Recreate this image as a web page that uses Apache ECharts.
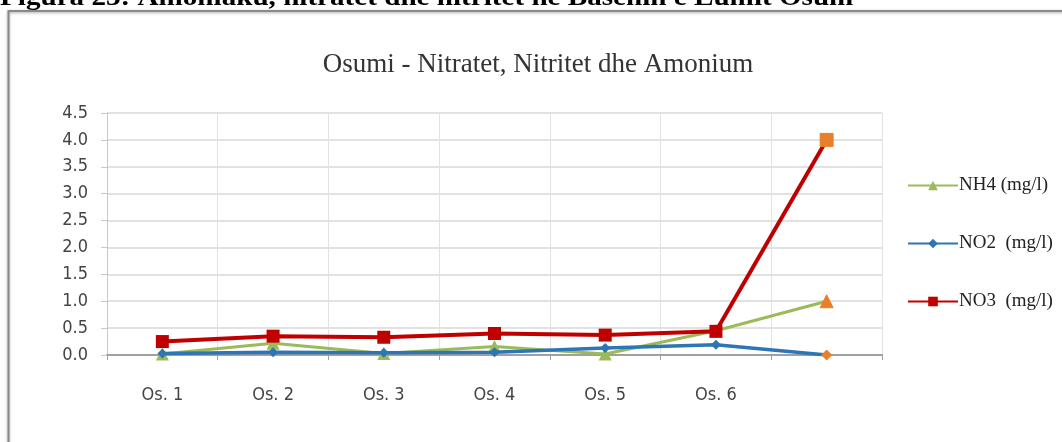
<!DOCTYPE html>
<html>
<head>
<meta charset="utf-8">
<script src="https://cdn.jsdelivr.net/npm/echarts@6/dist/echarts.min.js"></script>
<style>
  html, body { margin: 0; padding: 0; background: #fff; }
  #chart { width: 1062px; height: 442px; }
</style>
</head>
<body>
<div id="chart"></div>
<script>
  // stations
  const categories = ['Os. 1', 'Os. 2', 'Os. 3', 'Os. 4', 'Os. 5', 'Os. 6', ''];
  // values (mg/l)
  const nh4 = [0.02, 0.22, 0.03, 0.16, 0.02, 0.45, 1.0];
  const no2 = [0.03, 0.05, 0.04, 0.05, 0.13, 0.19, 0.0];
  const no3 = [0.25, 0.35, 0.33, 0.40, 0.37, 0.44, 4.0];
  const yTicks = { min: 0, max: 4.5, interval: 0.5 };

  const serif = '"Liberation Serif", "DejaVu Serif", serif';
  const narrow = '"DejaVu Sans Condensed", "Liberation Sans Narrow", "DejaVu Sans", sans-serif';
  const orange = '#E8802A';

  // the last point of each series is drawn orange in the original
  const mark = function (arr) {
    return arr.map(function (v, i) {
      if (i === arr.length - 1) {
        return { value: v, itemStyle: { color: orange, borderColor: orange } };
      }
      return v;
    });
  };

  const chart = echarts.init(document.getElementById('chart'));
  const option = {
    animation: false,
    title: {
      text: 'Osumi - Nitratet, Nitritet dhe Amonium',
      left: 533,
      top: 46,
      textAlign: 'center',
      textStyle: { fontFamily: serif, fontWeight: 'normal', fontSize: 27, color: '#333' }
    },
    graphic: [
      {
        type: 'text',
        x: 0,
        y: -15,
        scaleX: 1.12,
        style: {
          text: 'Figura 23: Amoniaku, nitratet dhe nitritet ne Basenin e Lumit Osum',
          font: 'bold 26px ' + serif,
          fill: '#000'
        }
      },
      {
        type: 'rect',
        shape: { x: 8.5, y: 11, width: 1070, height: 450 },
        style: { fill: 'none', stroke: '#8a8a8a', lineWidth: 2, shadowBlur: 3, shadowColor: 'rgba(0,0,0,0.35)', shadowOffsetY: 1 },
        z: -1
      }
    ],
    legend: {
      orient: 'vertical',
      left: 902,
      top: 171,
      itemWidth: 50,
      itemHeight: 12,
      itemGap: 39,
      textStyle: { fontFamily: serif, fontSize: 19, color: '#222', padding: [0, 0, 0, -4] },
      data: ['NH4 (mg/l)', 'NO2  (mg/l)', 'NO3  (mg/l)']
    },
    grid: { left: 107, right: 180, top: 113, bottom: 87 },
    xAxis: {
      type: 'category',
      data: categories,
      boundaryGap: true,
      axisLine: { lineStyle: { color: '#a0a0a0', width: 2 } },
      axisTick: { show: true, length: 5, lineStyle: { color: '#a0a0a0' } },
      axisLabel: { margin: 31, fontFamily: narrow, fontSize: 18, color: '#444' },
      splitLine: { show: true, lineStyle: { color: '#e2e2e2' } }
    },
    yAxis: {
      type: 'value',
      min: yTicks.min,
      max: yTicks.max,
      interval: yTicks.interval,
      axisLine: { show: true, lineStyle: { color: '#c8c8c8' } },
      axisTick: { show: true, length: 6, lineStyle: { color: '#c8c8c8' } },
      axisLabel: {
        margin: 19,
        fontFamily: narrow,
        fontSize: 18,
        color: '#444',
        formatter: function (v) { return v.toFixed(1); }
      },
      splitLine: { lineStyle: { color: '#e2e2e2', width: 2 } }
    },
    series: [
      {
        name: 'NH4 (mg/l)',
        type: 'line',
        data: mark(nh4),
        symbol: 'triangle',
        symbolSize: 13,
        color: '#9BBB59',
        lineStyle: { width: 3, color: '#9BBB59' },
        z: 2
      },
      {
        name: 'NO2  (mg/l)',
        type: 'line',
        data: mark(no2),
        symbol: 'diamond',
        symbolSize: 10,
        color: '#2E75B6',
        lineStyle: { width: 3.5, color: '#2E75B6' },
        z: 3
      },
      {
        name: 'NO3  (mg/l)',
        type: 'line',
        data: mark(no3),
        symbol: 'rect',
        symbolSize: 13,
        color: '#C00000',
        lineStyle: { width: 4, color: '#C00000' },
        z: 4
      }
    ]
  };
  chart.setOption(option);
</script>
</body>
</html>
